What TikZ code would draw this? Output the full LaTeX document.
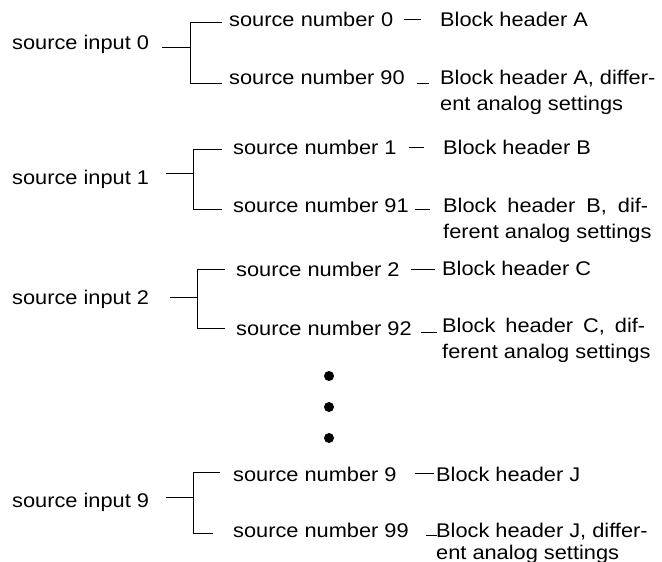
\documentclass[tikz,border=0pt]{standalone}
\usepackage{fontspec}
\setmainfont[FakeStretch=1.1]{Liberation Sans}
\begin{document}
\begin{tikzpicture}[x=1pt,y=-1pt,
  txt/.style={anchor=base west, inner sep=0pt, font=\fontsize{19.8}{26}\selectfont},
  wire/.style={line width=1pt, draw=black},
  dot/.style={circle, fill=black, inner sep=0pt, minimum size=10pt}]
\useasboundingbox (0,0) rectangle (662,562);
% ---------- group 0
\node[txt] (in0) at (12,49) {source input 0};
\node[txt] (s0) at (229,27) {\makebox[164pt][s]{source number 0}};
\node[txt] (h0) at (440,27) {Block header A};
\node[txt] (s90) at (229,84) {source number 90};
\node[txt] (h90) at (440,84) {Block header A, differ-};
\node[txt] (h90b) at (440,110) {ent analog settings};
\coordinate (w0a) at (162,47); \coordinate (w0b) at (190,47);
\coordinate (b0t) at (222,22); \coordinate (b0b) at (222,83);
\draw[wire] (w0a) -- (w0b);
\draw[wire] (b0t) -- (b0t -| w0b) -- (b0b -| w0b) -- (b0b);
\coordinate (l0a) at (404,19); \coordinate (l0b) at (421,19);
\draw[wire] (l0a) -- (l0b);
\coordinate (l90a) at (417,83); \coordinate (l90b) at (429,83);
\draw[wire] (l90a) -- (l90b);
% ---------- group 1
\node[txt] (in1) at (12,184) {source input 1};
\node[txt] (s1) at (233,154) {source number 1};
\node[txt] (h1) at (443,154) {Block header B};
\node[txt] (s91) at (233,212) {source number 91};
\node[txt] (h91) at (443,212) {\makebox[205pt][s]{Block header B, dif-}};
\node[txt] (h91b) at (443,238) {ferent analog settings};
\coordinate (w1a) at (166,173); \coordinate (w1b) at (193,173);
\coordinate (b1t) at (222,149); \coordinate (b1b) at (222,209);
\draw[wire] (w1a) -- (w1b);
\draw[wire] (b1t) -- (b1t -| w1b) -- (b1b -| w1b) -- (b1b);
\coordinate (l1a) at (409,147); \coordinate (l1b) at (424,147);
\draw[wire] (l1a) -- (l1b);
\coordinate (l91a) at (415,209); \coordinate (l91b) at (430,209);
\draw[wire] (l91a) -- (l91b);
% ---------- group 2
\node[txt] (in2) at (12,304) {source input 2};
\node[txt] (s2) at (236,276) {source number 2};
\node[txt] (h2) at (442,275) {Block header C};
\node[txt] (s92) at (236,335) {source number 92};
\node[txt] (h92) at (442,332) {\makebox[203pt][s]{Block header C, dif-}};
\node[txt] (h92b) at (442,358) {ferent analog settings};
\coordinate (w2a) at (170,297); \coordinate (w2b) at (197,297);
\coordinate (b2t) at (225,269); \coordinate (b2b) at (225,328);
\draw[wire] (w2a) -- (w2b);
\draw[wire] (b2t) -- (b2t -| w2b) -- (b2b -| w2b) -- (b2b);
\coordinate (l2a) at (411,269); \coordinate (l2b) at (435,269);
\draw[wire] (l2a) -- (l2b);
\coordinate (l92a) at (421,332); \coordinate (l92b) at (437,332);
\draw[wire] (l92a) -- (l92b);
% ---------- dots
\node[dot] (d1) at (329,376) {};
\node[dot] (d2) at (329,407) {};
\node[dot] (d3) at (329,438) {};
% ---------- group 9
\node[txt] (in9) at (12,507) {source input 9};
\node[txt] (s9) at (233,481) {source number 9};
\node[txt] (h9) at (436,481) {Block header J};
\node[txt] (s99) at (233,537) {source number 99};
\node[txt] (h99) at (436,537) {Block header J, differ-};
\node[txt] (h99b) at (436,559) {ent analog settings};
\coordinate (w9a) at (166,497); \coordinate (w9b) at (193,497);
\coordinate (b9t) at (220,472); \coordinate (b9b) at (213,533);
\draw[wire] (w9a) -- (w9b);
\draw[wire] (b9t) -- (b9t -| w9b) -- (b9b -| w9b) -- (b9b);
\coordinate (l9a) at (415,473); \coordinate (l9b) at (434,473);
\draw[wire] (l9a) -- (l9b);
\coordinate (l99a) at (426,535); \coordinate (l99b) at (437,535);
\draw[wire] (l99a) -- (l99b);
\end{tikzpicture}
\end{document}
